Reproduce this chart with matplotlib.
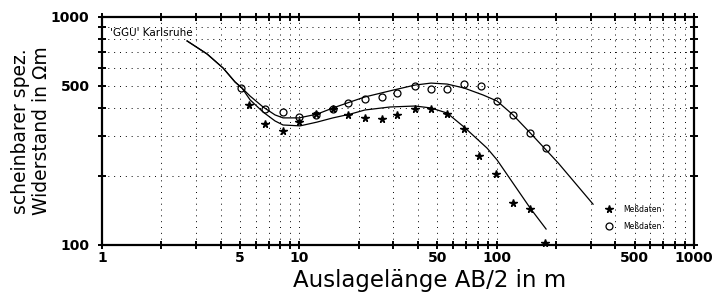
import matplotlib
matplotlib.use("Agg")
import matplotlib.pyplot as plt
from matplotlib.ticker import FixedLocator, FixedFormatter, NullFormatter
from matplotlib.lines import Line2D

# ---- data ----
# model curve fitting the open-circle data
model1_x = [2.70, 3.41, 4.11, 4.72, 5.12, 5.63, 6.55, 7.53, 8.27, 9.97, 12.3, 14.8,
            18.1, 21.5, 29.9, 38.6, 46.5, 56.1, 68.4, 85.3, 100.5, 121, 148, 205, 308]
model1_y = [785, 688, 597, 519, 488, 450, 403, 372, 361, 361, 375, 399,
            424, 446, 478, 503, 513, 508, 488, 455, 428, 372, 310, 229, 151]

# model curve fitting the star data
model2_x = [2.70, 3.41, 4.11, 4.72, 5.12, 5.63, 6.55, 7.53, 8.27, 10.08, 12.3, 14.8,
            18.1, 21.5, 28.8, 38.6, 46.5, 56.1, 68.4, 89.4, 100.5, 148, 178]
model2_y = [785, 688, 597, 519, 488, 433, 383, 350, 336, 333, 346, 361,
            375, 391, 403, 407, 399, 379, 329, 266, 236, 145, 117.5]

circle_x = [5.06, 6.7, 8.3, 10.0, 12.2, 14.8, 17.7, 21.5, 26.3, 31.3, 38.6, 46.5,
            56.1, 68.4, 83.4, 100.5, 121, 147.6, 178]
circle_y = [488, 395, 385, 364, 372, 395, 420, 437, 446, 464, 498, 483,
            483, 508, 498, 428, 372, 310, 266]

star_x = [5.56, 6.7, 8.3, 10.0, 12.2, 14.8, 17.7, 21.5, 26.3, 31.3, 38.6, 46.5,
          56.1, 68.4, 81.4, 99.3, 121, 147, 176]
star_y = [411, 340, 316, 346, 376, 395, 372, 361, 357, 372, 395, 395,
          376, 323, 246, 205, 153, 144, 102]

x_major = [1, 5, 10, 50, 100, 500, 1000]
x_major_labels = ["1", "5", "10", "50", "100", "500", "1000"]
x_minor = [2, 3, 4, 6, 7, 8, 9, 20, 30, 40, 60, 70, 80, 90, 200, 300, 400, 600, 700, 800, 900]
y_major = [100, 500, 1000]
y_major_labels = ["100", "500", "1000"]
y_minor = [200, 300, 400, 600, 700, 800, 900]

legend_labels = ["Meßdaten", "Meßdaten"]
watermark = "'GGU' Karlsruhe"
xlabel = "Auslagelänge AB/2 in m"
ylabel = "scheinbarer spez.\nWiderstand in Ωm"

# ---- figure ----
plt.rcParams['font.family'] = ['DejaVu Sans']
fig = plt.figure(figsize=(7.12, 2.93), dpi=100)
ax = fig.add_axes([102/712, 48/293, 592/712, 228/293])
ax.set_xscale('log')
ax.set_yscale('log')
ax.set_xlim(1, 1000)
ax.set_ylim(100, 1000)

ax.plot(model1_x, model1_y, color='black', lw=0.9)
ax.plot(model2_x, model2_y, color='black', lw=0.9)
ax.plot(star_x, star_y, linestyle='none', marker='*', color='black',
        markersize=5.5, clip_on=False)
ax.plot(circle_x, circle_y, linestyle='none', marker='o', markerfacecolor='none',
        markeredgecolor='black', markeredgewidth=0.9, markersize=5)

ax.xaxis.set_major_locator(FixedLocator(x_major))
ax.xaxis.set_major_formatter(FixedFormatter(x_major_labels))
ax.xaxis.set_minor_locator(FixedLocator(x_minor))
ax.xaxis.set_minor_formatter(NullFormatter())
ax.yaxis.set_major_locator(FixedLocator(y_major))
ax.yaxis.set_major_formatter(FixedFormatter(y_major_labels))
ax.yaxis.set_minor_locator(FixedLocator(y_minor))
ax.yaxis.set_minor_formatter(NullFormatter())

for which in ('major', 'minor'):
    ax.tick_params(axis='both', which=which, direction='inout', length=6, width=1.4,
                   top=True, right=True, color='black')
ax.tick_params(axis='x', which='major', labelsize=10, pad=1.5)
ax.tick_params(axis='y', which='major', labelsize=10, pad=6)
for lab in ax.get_xticklabels() + ax.get_yticklabels():
    lab.set_fontweight('bold')

ax.grid(True, which='both', color='black', lw=0.7, linestyle=(0, (1, 5)))
for sp in ax.spines.values():
    sp.set_linewidth(1.6)

ax.set_xlabel(xlabel, fontsize=16.5)
ax.xaxis.set_label_coords((430-102)/592, (245-269)/228)
ax.set_ylabel(ylabel, fontsize=13.5, linespacing=1.15)
ax.yaxis.set_label_coords((51-102)/592, 0.5)

ax.text(0.0135, 0.93, watermark, transform=ax.transAxes, fontsize=7.5,
        va='center', ha='left')

h1 = Line2D([], [], linestyle='none', marker='*', color='black', markersize=5.5)
h2 = Line2D([], [], linestyle='none', marker='o', markerfacecolor='none',
            markeredgecolor='black', markeredgewidth=0.9, markersize=5)
ax.legend([h1, h2], legend_labels, loc='upper left', bbox_to_anchor=(0.832, 0.205),
          frameon=False, fontsize=5.5, labelspacing=1.0, handlelength=2.0,
          handletextpad=0.8, borderpad=0.4)

fig.savefig("out.png", dpi=100)
